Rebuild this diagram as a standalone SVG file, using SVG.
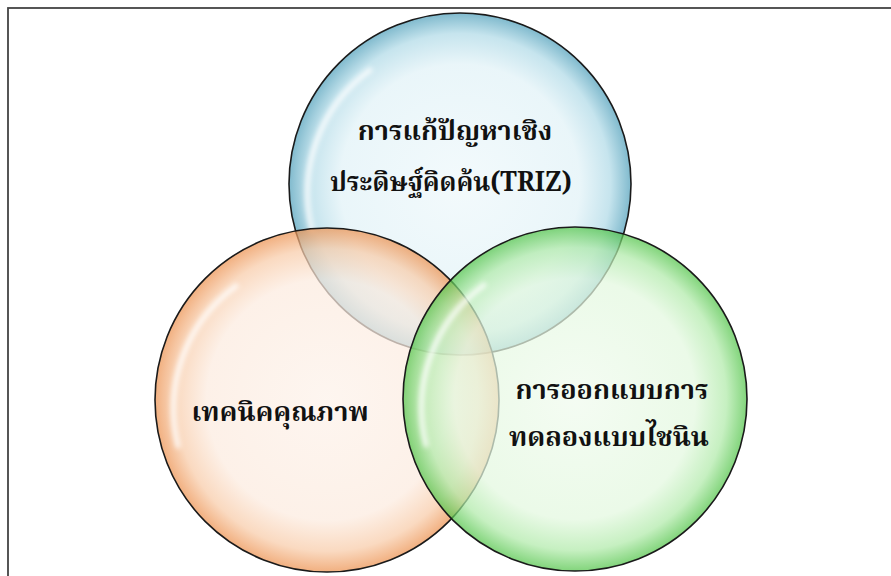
<svg xmlns="http://www.w3.org/2000/svg" width="891" height="576" viewBox="0 0 891 576">
<defs>
<radialGradient id="gBlue" cx="50%" cy="50%" r="50%">
<stop offset="0" stop-color="#eef8fb"/>
<stop offset="0.7" stop-color="#e1f2f7"/>
<stop offset="0.88" stop-color="#b0dae7"/>
<stop offset="1" stop-color="#4f9fba"/>
</radialGradient>
<radialGradient id="gOrange" cx="50%" cy="50%" r="50%">
<stop offset="0" stop-color="#fdf2ea"/>
<stop offset="0.7" stop-color="#fcebdf"/>
<stop offset="0.88" stop-color="#f8cba8"/>
<stop offset="1" stop-color="#ec914f"/>
</radialGradient>
<radialGradient id="gGreen" cx="50%" cy="50%" r="50%">
<stop offset="0" stop-color="#f0fbee"/>
<stop offset="0.7" stop-color="#e3f8df"/>
<stop offset="0.88" stop-color="#b0eaa9"/>
<stop offset="1" stop-color="#52c449"/>
</radialGradient>
<filter id="blur" x="-20%" y="-20%" width="140%" height="140%"><feGaussianBlur stdDeviation="2.5"/></filter>
</defs>
<style>
.circ{stroke:#1a1a1a;stroke-width:1.6;fill-opacity:0.72}
.hl{fill:none;stroke:#ffffff;stroke-width:5;stroke-opacity:0.85;stroke-linecap:round;filter:url(#blur)}
.lbl{font-family:"Noto Serif Thai","Noto Sans Thai","Liberation Serif",serif;font-size:27px;font-weight:bold;fill:#111;text-anchor:middle}
</style>
<rect x="8" y="8" width="900" height="590" fill="#ffffff" stroke="#444" stroke-width="1.8"/>
<g id="node-triz">
<circle class="circ" cx="460" cy="184" r="171" fill="url(#gBlue)"/>
<path class="hl" d="M 312 230 A 152 152 0 0 1 370 70"/>
</g>
<g id="node-quality">
<circle class="circ" cx="327" cy="400" r="172" fill="url(#gOrange)"/>
<path class="hl" d="M 178 446 A 152 152 0 0 1 236 286"/>
</g>
<g id="node-shainin">
<circle class="circ" cx="575" cy="399" r="172" fill="url(#gGreen)"/>
<path class="hl" d="M 426 445 A 152 152 0 0 1 484 285"/>
</g>
<g id="connectors"/>
<g id="labels">
<text class="lbl" x="455" y="140">การแก้ปัญหาเชิง</text>
<text class="lbl" x="451" y="191" textLength="242" lengthAdjust="spacingAndGlyphs">ประดิษฐ์คิดค้น(TRIZ)</text>
<text class="lbl" x="280" y="421">เทคนิคคุณภาพ</text>
<text class="lbl" x="612" y="399">การออกแบบการ</text>
<text class="lbl" x="609" y="446">ทดลองแบบไชนิน</text>
</g>
</svg>
